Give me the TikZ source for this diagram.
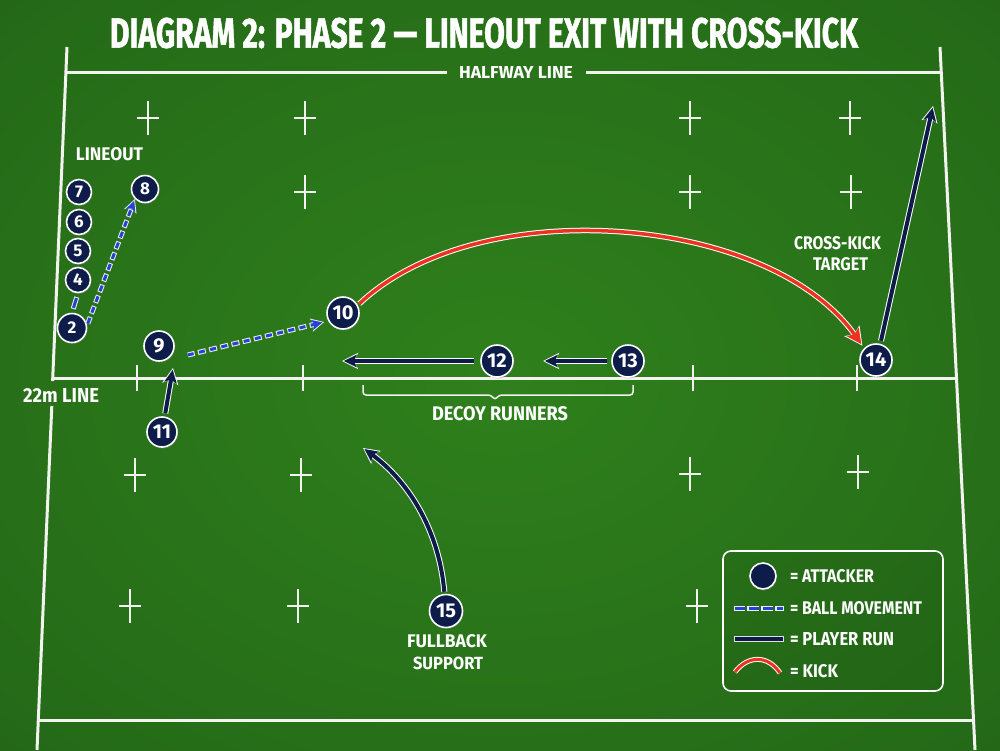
\documentclass[tikz,border=0pt]{standalone}
\usepackage{fontspec}
\setmainfont{Fira Sans}
\newfontfamily\heavyfont{Fira Sans}[FakeBold=1.5]
\usetikzlibrary{arrows.meta,shadows}
\definecolor{navy}{HTML}{0E1C4A}
\definecolor{ballblue}{HTML}{2442D6}
\definecolor{kickred}{HTML}{EC3320}
\definecolor{grassC}{HTML}{2F801C}
\definecolor{grassM}{HTML}{256B18}
\definecolor{grassE}{HTML}{13440C}
\definecolor{chalk}{HTML}{F2F2EE}
\pgfdeclareradialshading{grass}{\pgfpoint{0bp}{0bp}}{color(0bp)=(grassC); color(32bp)=(grassM); color(72bp)=(grassE)}
\tikzset{
  pitch/.style={draw=chalk, line width=3pt},
  crossmark/.style={draw=chalk, line width=2.4pt},
  player/.style={circle, fill=navy, draw=white, line width=1.6pt, text=white,
    font=\bfseries\fontsize{20}{20}\selectfont, minimum size=32pt, inner sep=0pt,
    drop shadow={opacity=0.35, shadow xshift=1pt, shadow yshift=-1.5pt}},
  smallp/.style={player, font=\bfseries\fontsize{17}{17}\selectfont},
  runW/.style={draw=white, line width=6pt, -{Stealth[length=16pt,width=16pt,inset=4pt]}},
  runN/.style={draw=navy, line width=4pt, -{Stealth[length=13pt,width=12.5pt,inset=3pt]}},
  ballW/.style={draw=white!85!gray, line width=5pt, dash pattern=on 8pt off 3.5pt, dash phase=1pt, -{Stealth[length=13pt,width=13pt,inset=3pt]}},
  ballB/.style={draw=ballblue, line width=3pt, dash pattern=on 6pt off 5.5pt, -{Stealth[length=10.5pt,width=10pt,inset=2.5pt]}},
  kickW/.style={draw=white, line width=5.5pt, -{Stealth[length=18pt,width=18pt,inset=4pt]}},
  kickR/.style={draw=kickred, line width=3.5pt, -{Stealth[length=15pt,width=14.5pt,inset=3pt]}},
}
\newcommand\twopass[5]{%
  \draw[#1, shorten <=#3, shorten >=#4] #5;
  \draw[#2, shorten <=#3, shorten >=#4+1.8pt] #5;}
\newcommand\lbl[6]{%
  \node[inner sep=0pt, text=white] (#1) at (#2,#3) {\resizebox{#4pt}{#5pt}{\bfseries #6}};}
\newcommand\crossat[2]{\draw[crossmark] (#1-11,#2) -- (#1+11,#2) (#1,#2-17) -- (#1,#2+17);}
\begin{document}
\begin{tikzpicture}[x=1pt,y=-1pt]
\useasboundingbox (0,0) rectangle (1000,750);
\shade[shading=grass] (0,0) rectangle (1000,750);
% pitch lines
\draw[pitch] (67,47) -- (52.6,381);
\draw[pitch] (51.8,406) -- (37,750);
\draw[pitch] (940,47) -- (975,750);
\draw[pitch] (65.9,72) -- (447,72);
\draw[pitch] (586,72) -- (941.2,72);
\draw[pitch] (52.9,378) -- (956.5,378);
\draw[pitch] (38.3,720) -- (973.5,720);
% crosses
\crossat{148}{118}\crossat{305}{118}\crossat{690}{118}\crossat{850}{118}
\crossat{305}{192}\crossat{690}{192}\crossat{851}{192}
\crossat{135}{475}\crossat{301}{475}\crossat{690}{474}\crossat{858}{472}
\crossat{130}{606}\crossat{298}{606}\crossat{697}{606}
\foreach \tx in {137,303,693,857} {\draw[crossmark] (\tx,365) -- (\tx,391);}
% title
\node[inner sep=0pt, text=white] (title) at (484,33) {\resizebox{748pt}{30pt}{\heavyfont\bfseries DIAGRAM 2: PHASE 2 — LINEOUT EXIT WITH CROSS-KICK}};
% labels
\lbl{halfway}{516}{72}{114}{12}{HALFWAY LINE}
\lbl{lineout}{109.5}{154.5}{67}{13}{LINEOUT}
\lbl{twentytwo}{61}{395}{76}{14}{22m LINE}
\lbl{decoy}{500}{414}{136}{14}{DECOY RUNNERS}
\lbl{ck1}{837.5}{243.5}{87}{13}{CROSS-KICK}
\lbl{ck2}{840.5}{264}{55}{13}{TARGET}
\lbl{fb1}{447}{641.5}{80}{13}{FULLBACK}
\lbl{fb2}{448}{663}{70}{12.5}{SUPPORT}
% brace
\draw[chalk, line width=1.5pt, rounded corners=3pt] (363,385) |- (491,395) -- (495,400) -- (499,395) -| (633,385);
% legend
\draw[white, line width=1.6pt, rounded corners=8pt, fill=black, fill opacity=0.06] (723,551) rectangle (943,691);
\node[player, minimum size=26pt] (legatt) at (763,576) {};
\draw[draw=white!85!gray, line width=5pt, dash pattern=on 12pt off 2pt, dash phase=1pt] (734,608) -- (784,608);
\draw[draw=ballblue, line width=3pt, dash pattern=on 10pt off 4pt] (735,608) -- (783,608);
\draw[draw=white!75!gray, line width=5.5pt] (734,639) -- (784,639);
\draw[draw=navy, line width=3.5pt] (735,639) -- (783,639);
\draw[draw=white, line width=5pt] (735,672) .. controls (748,655) and (768,655) .. (780,673);
\draw[draw=kickred, line width=3pt] (735,672) .. controls (748,655) and (768,655) .. (780,673);
\lbl{l1}{832}{576}{84}{13}{= ATTACKER}
\lbl{l2}{856}{608}{132}{13}{= BALL MOVEMENT}
\lbl{l3}{842}{639}{104}{13}{= PLAYER RUN}
\lbl{l4}{814}{671}{48}{13}{= KICK}
% players
\node[smallp, minimum size=25pt] (p7) at (79,192) {7};
\node[smallp, minimum size=25pt] (p6) at (79,222) {6};
\node[smallp, minimum size=25pt] (p5) at (78,251) {5};
\node[smallp, minimum size=25pt] (p4) at (78,280) {4};
\node[smallp, minimum size=29pt] (p2) at (72,328) {2};
\node[smallp, minimum size=27pt] (p8) at (145,189) {8};
\node[player, minimum size=30pt] (p9) at (159,346) {9};
\node[player] (p10) at (343,313) {10};
\node[player, minimum size=30pt] (p11) at (162,432) {11};
\node[player] (p12) at (497,361) {12};
\node[player] (p13) at (628,361) {13};
\node[player] (p14) at (876,360) {14};
\node[player, minimum size=33pt] (p15) at (446,611) {15};
% free ends
\coordinate (e11) at (173,368);
\coordinate (e12) at (342,361);
\coordinate (e13) at (543,361);
\coordinate (e14) at (933,106);
\coordinate (e15) at (363,448);
% ball movement
\draw[draw=white!85!gray, line width=5pt, shorten <=4pt, shorten >=4pt] (p4.south) -- (p2.north);
\draw[draw=ballblue, line width=3pt, shorten <=5pt, shorten >=5pt] (p4.south) -- (p2.north);
\twopass{ballW}{ballB}{2pt}{0pt}{(p2.10) -- (p8.225)}
\twopass{ballW}{ballB}{0pt}{0pt}{([shift={(13,9)}]p9.east) -- ([shift={(-2,9)}]p10.west)}
% runs
\twopass{runW}{runN}{3pt}{0pt}{(p11.80) -- (e11)}
\twopass{runW}{runN}{6pt}{0pt}{(p12.west) -- (e12)}
\twopass{runW}{runN}{4pt}{0pt}{(p13.west) -- (e13)}
\twopass{runW}{runN}{3pt}{0pt}{(p14.75) -- (e14)}
\twopass{runW}{runN}{2pt}{0pt}{(p15.95) .. controls (438,520) and (400,475) .. (e15)}
% kick
\twopass{kickW}{kickR}{2pt}{3pt}{(p10.28) .. controls (480,190) and (770,215) .. (p14.135)}
\end{tikzpicture}
\end{document}
